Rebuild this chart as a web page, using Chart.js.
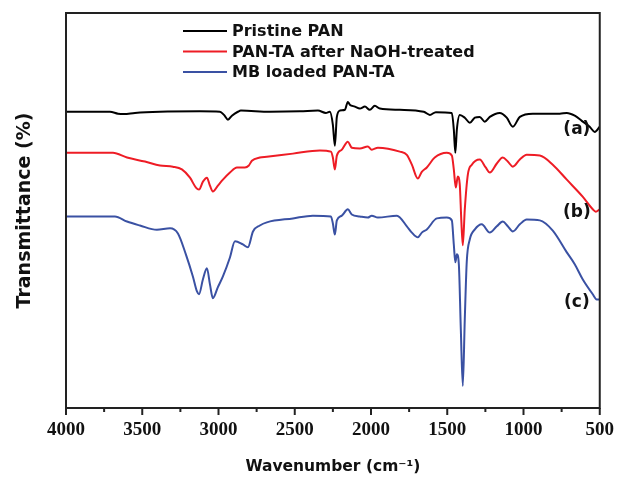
<!DOCTYPE html>
<html>
<head>
<meta charset="utf-8">
<script src="https://cdn.jsdelivr.net/npm/chart.js@4"></script>
<style>
html, body { margin: 0; padding: 0; background: #fff; }
</style>
</head>
<body>
<canvas id="ftir" width="618" height="478"></canvas>
<script>
// FTIR spectra, wavenumber (cm-1) vs transmittance (arbitrary, offset curves)

const seriesNames = ['Pristine PAN', 'PAN-TA after NaOH-treated', 'MB loaded PAN-TA'];
const curveTags = ['(a)', '(b)', '(c)'];
const xTicks = [4000, 3500, 3000, 2500, 2000, 1500, 1000, 500];

// (a) pristine PAN
const wnA = [4000, 3712, 3659, 3620, 3548, 3384, 3122, 2991, 2964, 2938, 2912, 2873, 2853, 2663, 2466, 2348, 2296, 2270, 2250, 2237,
    2224, 2204, 2171, 2152, 2139, 2106, 2073, 2040, 2008, 1975, 1942, 1811, 1654, 1614, 1575, 1470, 1457, 1447, 1437, 1418,
    1385, 1352, 1319, 1287, 1254, 1221, 1156, 1110, 1070, 1024, 939, 762, 716, 664, 618, 566, 533, 500];
const tA = [75.0, 75.0, 74.5, 74.4, 74.7, 75.0, 75.1, 75.0, 74.2, 73.0, 74.0, 75.0, 75.3, 75.0, 75.1, 75.3, 74.7, 75.0, 71.7, 66.4,
    73.7, 75.3, 75.5, 77.5, 76.8, 76.3, 75.8, 76.3, 75.5, 76.5, 75.8, 75.5, 75.0, 74.2, 74.9, 74.7, 70.5, 64.6, 70.5, 74.2,
    73.5, 72.2, 73.5, 73.7, 72.5, 73.7, 74.7, 73.5, 71.2, 73.7, 74.5, 74.5, 74.7, 74.0, 72.7, 71.2, 69.9, 71.2];

// (b) PAN-TA after NaOH
const wnB = [4000, 3692, 3600, 3482, 3384, 3299, 3240, 3187, 3148, 3128, 3102, 3076, 3056, 3037, 3004, 2971, 2925, 2879, 2827, 2801,
    2781, 2729, 2683, 2512, 2335, 2263, 2250, 2237, 2224, 2191, 2152, 2126, 2073, 2021, 1995, 1955, 1811, 1765, 1732, 1693,
    1667, 1634, 1582, 1503, 1470, 1457, 1444, 1431, 1418, 1408, 1398, 1385, 1365, 1339, 1287, 1248, 1221, 1175, 1136, 1103,
    1070, 1024, 979, 893, 808, 716, 612, 546, 526, 500];
const tB = [64.6, 64.6, 63.4, 62.4, 61.4, 61.1, 60.4, 58.3, 55.8, 55.3, 57.3, 58.3, 56.3, 54.8, 56.3, 57.8, 59.6, 60.9, 60.9, 61.4,
    62.6, 63.4, 63.6, 64.4, 65.2, 64.9, 63.4, 60.4, 63.9, 65.4, 67.4, 65.9, 65.7, 66.2, 65.4, 65.9, 64.9, 64.1, 61.6, 58.1,
    59.8, 60.9, 63.4, 64.6, 63.9, 60.4, 55.8, 58.6, 56.6, 47.7, 41.2, 50.3, 59.1, 61.6, 62.9, 60.9, 59.6, 61.9, 63.4, 62.4,
    61.1, 62.9, 64.1, 63.9, 61.6, 57.8, 53.5, 50.3, 49.7, 50.3];

// (c) MB loaded PAN-TA
const wnC = [4000, 3679, 3600, 3515, 3404, 3318, 3266, 3214, 3168, 3141, 3128, 3102, 3076, 3056, 3037, 3004, 2971, 2925, 2892, 2840,
    2807, 2774, 2729, 2683, 2512, 2381, 2263, 2250, 2237, 2224, 2191, 2152, 2126, 2073, 2021, 1995, 1955, 1830, 1765, 1732,
    1693, 1667, 1634, 1568, 1503, 1470, 1457, 1447, 1437, 1424, 1411, 1398, 1385, 1372, 1352, 1319, 1274, 1221, 1175, 1136,
    1103, 1070, 1024, 979, 893, 808, 716, 664, 612, 546, 520, 500];
const tC = [48.5, 48.5, 47.2, 46.2, 45.1, 45.5, 44.2, 38.9, 33.3, 29.5, 28.8, 32.6, 35.4, 31.3, 27.8, 30.6, 33.3, 38.1, 42.2, 41.4,
    40.7, 44.7, 46.2, 47.0, 48.0, 48.7, 48.5, 46.7, 43.9, 47.5, 48.7, 50.3, 49.0, 48.5, 48.2, 48.7, 48.2, 48.7, 46.0, 44.4,
    43.2, 44.4, 45.2, 48.0, 48.2, 47.5, 41.4, 36.9, 38.9, 36.4, 19.9, 5.6, 22.5, 37.1, 42.7, 45.2, 46.5, 44.4, 46.0, 47.2,
    46.0, 44.7, 46.5, 47.7, 47.5, 44.9, 39.4, 36.4, 32.6, 28.8, 27.5, 27.5];

const colors = ['#000000', '#ee1c25', '#3a51a3'];
const SANS = "'DejaVu Sans', sans-serif";

function toPoints(xs, ys) {
    return xs.map((x, i) => ({ x: x, y: ys[i] }));
}

// frame around the plot area
const framePlugin = {
    id: 'frame',
    afterDatasetsDraw(chart) {
        const { ctx, chartArea: a } = chart;
        ctx.save();
        ctx.strokeStyle = '#222';
        ctx.lineWidth = 2;
        ctx.strokeRect(a.left, a.top, a.right - a.left, a.bottom - a.top);
        ctx.restore();
    }
};

// outward ticks: long at labelled values, short halfway between
const tickPlugin = {
    id: 'outTicks',
    afterDraw(chart) {
        const { ctx, scales: { x }, chartArea: a } = chart;
        ctx.save();
        ctx.strokeStyle = '#222';
        ctx.lineWidth = 2;
        const mark = (v, len) => {
            const px = x.getPixelForValue(v);
            ctx.beginPath();
            ctx.moveTo(px, a.bottom);
            ctx.lineTo(px, a.bottom + len);
            ctx.stroke();
        };
        xTicks.forEach(v => mark(v, 7));
        for (let i = 0; i < xTicks.length - 1; i++) {
            mark((xTicks[i] + xTicks[i + 1]) / 2, 4);
        }
        ctx.restore();
    }
};

// legend inside the frame, top
const innerLegendPlugin = {
    id: 'innerLegend',
    afterDraw(chart) {
        const { ctx } = chart;
        const x0 = 183, len = 44, y0 = 31, gap = 20.5;
        ctx.save();
        ctx.font = 'bold 16px ' + SANS;
        ctx.textBaseline = 'middle';
        chart.data.datasets.forEach((ds, i) => {
            const y = y0 + i * gap;
            ctx.strokeStyle = ds.borderColor;
            ctx.lineWidth = 2;
            ctx.beginPath();
            ctx.moveTo(x0, y);
            ctx.lineTo(x0 + len, y);
            ctx.stroke();
            ctx.fillStyle = '#111';
            ctx.fillText(ds.label, x0 + len + 5, y + 1);
        });
        ctx.restore();
    }
};

// (a) (b) (c) tags next to the curve ends
const tagPlugin = {
    id: 'curveTags',
    afterDraw(chart) {
        const { ctx, scales: { x, y } } = chart;
        const spots = [[650, 70.5], [650, 49.4], [650, 26.8]];
        ctx.save();
        ctx.font = 'bold 17px ' + SANS;
        ctx.fillStyle = '#111';
        ctx.textAlign = 'center';
        ctx.textBaseline = 'middle';
        curveTags.forEach((t, i) => {
            ctx.fillText(t, x.getPixelForValue(spots[i][0]), y.getPixelForValue(spots[i][1]));
        });
        ctx.restore();
    }
};

const ctx = document.getElementById('ftir');
new Chart(ctx, {
    type: 'line',
    data: {
        datasets: [
            { label: seriesNames[0], data: toPoints(wnA, tA), borderColor: colors[0] },
            { label: seriesNames[1], data: toPoints(wnB, tB), borderColor: colors[1] },
            { label: seriesNames[2], data: toPoints(wnC, tC), borderColor: colors[2] }
        ].map(ds => Object.assign(ds, {
            borderWidth: 2,
            pointRadius: 0,
            fill: false,
            cubicInterpolationMode: 'monotone'
        }))
    },
    options: {
        responsive: false,
        animation: false,
        layout: { padding: { top: 13, right: 17, left: 0, bottom: 0 } },
        plugins: {
            legend: { display: false },
            tooltip: { enabled: false }
        },
        scales: {
            x: {
                type: 'linear',
                reverse: true,
                min: 500,
                max: 4000,
                afterFit: s => { s.height = 70; },
                afterBuildTicks: s => { s.ticks = xTicks.map(v => ({ value: v })); },
                ticks: {
                    autoSkip: false,
                    maxRotation: 0,
                    padding: 4,
                    color: '#111',
                    font: { family: "'Liberation Serif', serif", size: 19, weight: 'bold' },
                    callback: v => String(v)
                },
                grid: {
                    display: true,
                    drawOnChartArea: false,
                    drawTicks: true,
                    tickLength: 7,
                    tickColor: 'rgba(0,0,0,0)'
                },
                border: { display: false },
                title: {
                    display: true,
                    text: 'Wavenumber (cm⁻¹)',
                    color: '#111',
                    font: { family: SANS, size: 15.5, weight: 'bold' },
                    padding: { top: 0, bottom: 2 }
                }
            },
            y: {
                min: 0,
                max: 100,
                afterFit: s => { s.width = 66; },
                ticks: { display: false },
                grid: { display: false },
                border: { display: false },
                title: {
                    display: true,
                    text: 'Transmittance (%)',
                    color: '#111',
                    font: { family: SANS, size: 19, weight: 'bold' },
                    padding: { top: 14, bottom: 0 }
                }
            }
        }
    },
    plugins: [framePlugin, tickPlugin, innerLegendPlugin, tagPlugin]
});
</script>
</body>
</html>
